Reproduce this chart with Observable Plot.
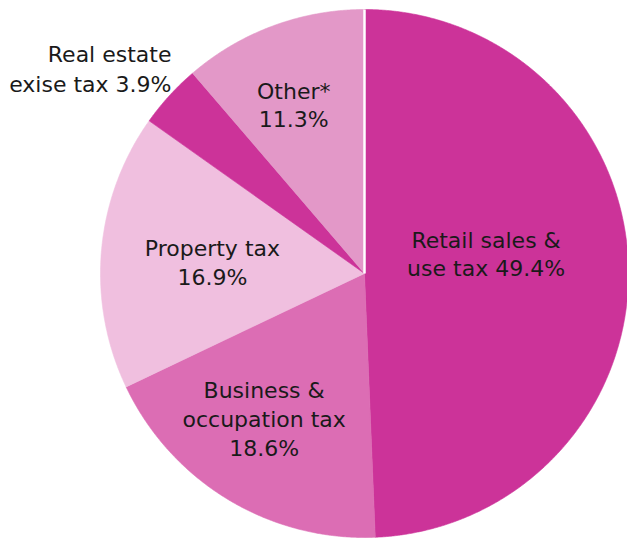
<!DOCTYPE html>
<html>
<head>
<meta charset="utf-8">
<script src="https://cdn.jsdelivr.net/npm/d3@7"></script>
<script src="https://cdn.jsdelivr.net/npm/@observablehq/plot@0.6"></script>
<style>
  html, body { margin: 0; padding: 0; background: #ffffff; overflow: hidden; }
</style>
</head>
<body>
<div id="chart"></div>
<script>
// ---- data ----
const categories = ["Retail sales & use tax", "Business & occupation tax", "Property tax", "Real estate exise tax", "Other*"];
const shares = [49.4, 18.6, 16.9, 3.9, 11.3];
const labels = ["Retail sales &\nuse tax 49.4%", "Business &\noccupation tax\n18.6%", "Property tax\n16.9%", "Real estate\nexise tax 3.9%", "Other*\n11.3%"];
const palette = ["#CC3399", "#DC6DB4", "#F0BFDF", "#CC3399", "#E398C8"];

const rows = categories.map((c, i) => ({category: c, value: shares[i], label: labels[i]}));
const arcs = d3.pie().sort(null).value(d => d.value)(rows);

// polygon outline of each slice (unit radius, angle clockwise from 12 o'clock)
const outline = [];
arcs.forEach(a => {
  const key = a.data.category;
  outline.push({key, x: 0, y: 0});
  const n = Math.max(4, Math.ceil((a.endAngle - a.startAngle) / (Math.PI / 720)));
  for (let k = 0; k <= n; k++) {
    const t = a.startAngle + (a.endAngle - a.startAngle) * k / n;
    outline.push({key, x: Math.sin(t), y: Math.cos(t)});
  }
  outline.push({key, x: 0, y: 0});
});

// label placement (fraction of radius, angular offset in degrees from slice middle)
const place = {
  "Retail sales & use tax": [0.467, -8.4],
  "Business & occupation tax": [0.666, 3.7],
  "Property tax": [0.578, -0.3],
  "Real estate exise tax": [1.069, 4.5],
  "Other*": [0.697, -2.3]
};
const labelRows = arcs.map(a => {
  const [f, off] = place[a.data.category];
  const t = (a.startAngle + a.endAngle) / 2 + off * Math.PI / 180;
  return {...a.data, lx: f * Math.sin(t), ly: f * Math.cos(t)};
});

const W = 627, H = 540, R = 264, CX = 364, CY = 273;
const start = arcs[0].startAngle;

const chart = Plot.plot({
  width: W,
  height: H,
  margin: 0,
  style: {background: "#ffffff"},
  x: {axis: null, domain: [-CX / R, (W - CX) / R]},
  y: {axis: null, domain: [-(H - CY) / R, CY / R]},
  color: {domain: categories, range: palette},
  marks: [
    Plot.line(outline, {x: "x", y: "y", z: "key", fill: "key", stroke: "key", strokeWidth: 0.6, curve: "linear"}),
    Plot.link([{x1: 0, y1: 0, x2: Math.sin(start), y2: Math.cos(start)}], {
      x1: "x1", y1: "y1", x2: "x2", y2: "y2", stroke: "#ffffff", strokeWidth: 2.5
    }),
    Plot.text(labelRows.filter(d => d.category !== "Real estate exise tax"), {
      x: "lx", y: "ly", text: "label", fontSize: 22, lineHeight: 1.3,
      fontFamily: "DejaVu Sans", fill: "#1a1a1a", textAnchor: "middle"
    }),
    Plot.text(labelRows.filter(d => d.category === "Real estate exise tax"), {
      x: "lx", y: "ly", text: "label", fontSize: 22, lineHeight: 1.35,
      fontFamily: "DejaVu Sans", fill: "#1a1a1a", textAnchor: "end"
    })
  ]
});
document.getElementById("chart").appendChild(chart);
</script>
</body>
</html>
